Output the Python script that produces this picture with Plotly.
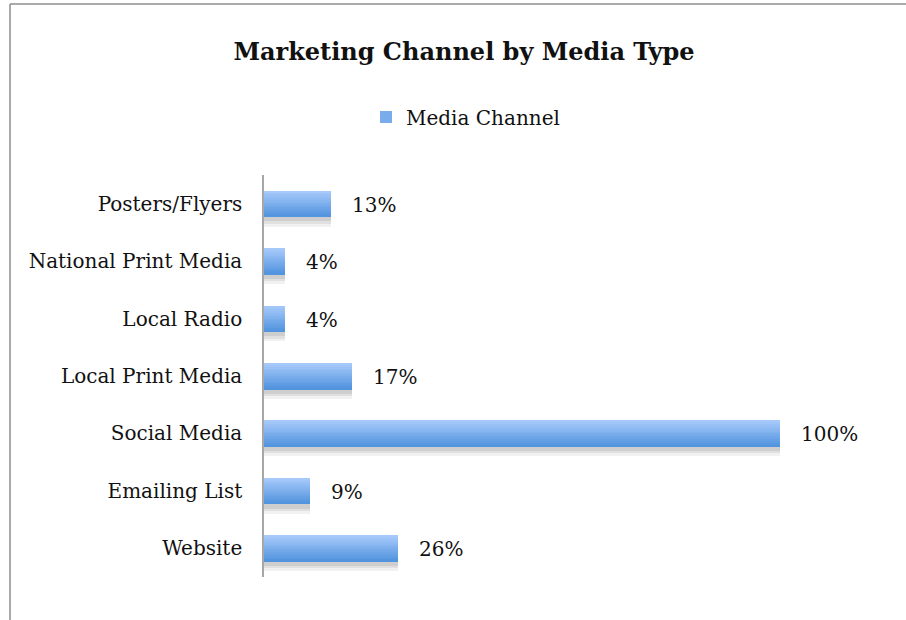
import plotly.graph_objects as go

# Channel shares, listed bottom to top
channels = ["Website", "Emailing List", "Social Media", "Local Print Media",
            "Local Radio", "National Print Media", "Posters/Flyers"]
shares = [26, 9, 100, 17, 4, 4, 13]
series_name = "Media Channel"

W, H = 906, 620
ML, MR, MT, MB = 264, 26, 175, 43
PW = W - ML - MR
PH = H - MT - MB
XMAX = 100 * PW / 516.0

BAR_W = 0.455
N_BANDS = 14
TOP_RGB = (166, 201, 250)
BOT_RGB = (82, 148, 222)
FONT = "DejaVu Serif"
TXT = "#111111"


def mix(t):
    r, g, b = (round(a + (c - a) * t) for a, c in zip(TOP_RGB, BOT_RGB))
    return f"rgb({r},{g},{b})"


fig = go.Figure()

# soft drop shadow under each bar
for dy, a in [(0.17, 0.07), (0.12, 0.09), (0.08, 0.11)]:
    fig.add_trace(go.Bar(
        x=shares, y=channels, orientation="h",
        width=BAR_W, offset=-BAR_W / 2 - dy,
        marker=dict(color=f"rgba(60,60,60,{a})", line=dict(width=0)),
        showlegend=False, hoverinfo="skip",
    ))

# vertical gradient: each band covers the lower part of the bar, getting darker
for k in range(N_BANDS):
    frac = 1 - k / N_BANDS
    fig.add_trace(go.Bar(
        x=shares, y=channels, orientation="h",
        width=BAR_W * frac, offset=-BAR_W / 2,
        marker=dict(color=mix(k / (N_BANDS - 1)), line=dict(width=0)),
        name=series_name, showlegend=(k == N_BANDS // 2),
        hoverinfo="skip" if k else "x+y",
    ))

# value labels
for c, v in zip(channels, shares):
    fig.add_annotation(
        x=v, y=c, text=f"{v}%", showarrow=False,
        xanchor="left", xshift=19, yshift=-1,
        font=dict(family=FONT, size=20, color=TXT),
    )

# chart frame (top and left edges)
fig.add_shape(type="line", xref="paper", yref="paper",
              x0=(10 - ML) / PW, x1=(W + 5 - ML) / PW,
              y0=(H - MB - 4) / PH, y1=(H - MB - 4) / PH,
              line=dict(color="#8e8e8e", width=1.5))
fig.add_shape(type="line", xref="paper", yref="paper",
              x0=(10 - ML) / PW, x1=(10 - ML) / PW,
              y0=(H - MB - 4) / PH, y1=(-MB - 5) / PH,
              line=dict(color="#8e8e8e", width=1.5))

fig.update_layout(
    width=W, height=H,
    margin=dict(l=ML, r=MR, t=MT, b=MB),
    paper_bgcolor="white", plot_bgcolor="white",
    barmode="overlay", bargap=0,
    title=dict(text="<b>Marketing Channel by Media Type</b>",
               x=464 / W, xanchor="center", xref="container",
               y=1 - 52 / H, yanchor="middle", yref="container",
               font=dict(family=FONT, size=24, color=TXT)),
    legend=dict(orientation="h", xref="container", x=366 / W, xanchor="left",
                yref="container", y=1 - 117 / H, yanchor="middle",
                font=dict(family=FONT, size=20, color=TXT),
                itemwidth=30, bgcolor="rgba(0,0,0,0)"),
    xaxis=dict(range=[0, XMAX], visible=False, fixedrange=True),
    yaxis=dict(type="category", categoryorder="array", categoryarray=channels,
               range=[-0.5, len(channels) - 0.5],
               showline=True, linecolor="#a6a6a6", linewidth=1.5,
               showgrid=False, ticks="", ticklabelstandoff=16,
               tickfont=dict(family=FONT, size=20, color=TXT)),
    showlegend=True,
)

fig.write_html("out.html")
